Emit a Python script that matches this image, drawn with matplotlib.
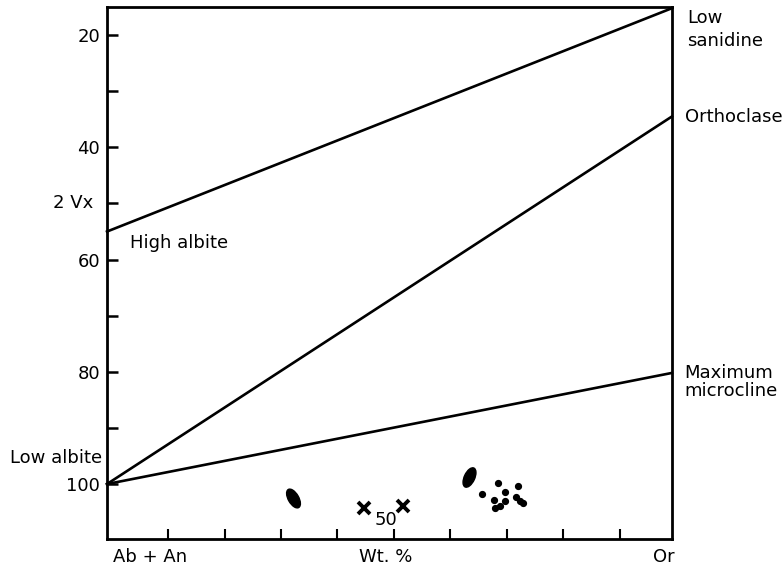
import matplotlib
matplotlib.use("Agg")
import matplotlib.pyplot as plt
from matplotlib.markers import MarkerStyle
from matplotlib.transforms import Affine2D

plt.rcParams['font.family'] = ['DejaVu Sans']

# structural state reference lines: 2Vx at Ab+An end and at Or end
line_names = ['High albite', 'Orthoclase', 'Maximum microcline']
line_left = [55.0, 100.0, 100.0]
line_right = [15.2, 34.5, 80.2]

# measured feldspars (wt. % Or, 2Vx)
dot_x = [65.5, 68.5, 67.7, 67.9, 68.8, 69.6, 69.6, 72.0, 71.6, 72.3, 72.9]
dot_y = [101.7, 99.8, 102.9, 104.3, 103.9, 101.5, 103.0, 100.4, 102.3, 103.0, 103.4]
cross_x = [44.7, 51.6]
cross_y = [104.2, 103.9]
blob_x = [32.1, 63.2]
blob_y = [102.5, 98.8]
blob_angle = [30, -25]

y_ticks = [20, 30, 40, 50, 60, 70, 80, 90, 100]
y_labels = ['20', '', '40', '', '60', '', '80', '', '100']
x_ticks = [10, 20, 30, 40, 50, 60, 70, 80, 90]

fig = plt.figure(figsize=(7.84, 5.68), dpi=100)
ax = fig.add_axes([0.1365, 0.051, 0.7205, 0.9375])
ax.set_xlim(-0.8, 99.2)
ax.set_ylim(109.8, 14.9)
x0, x1 = ax.get_xlim()

for left, right in zip(line_left, line_right):
    ax.plot([x0, x1], [left, right], color='black', lw=1.9, clip_on=False)

ax.plot(dot_x, dot_y, 'o', color='black', ms=4.2)
ax.plot(cross_x, cross_y, 'x', color='black', ms=9, mew=2.8)
for bx, by, ang in zip(blob_x, blob_y, blob_angle):
    m = MarkerStyle('o', transform=Affine2D().scale(0.5, 1.0).rotate_deg(ang))
    ax.plot([bx], [by], marker=m, color='black', ms=15, ls='none')

for s in ax.spines.values():
    s.set_linewidth(2)

ax.set_yticks(y_ticks)
ax.set_yticklabels(y_labels)
ax.set_xticks(x_ticks)
ax.set_xticklabels([])
ax.tick_params(axis='y', direction='in', length=8, width=1.8, labelsize=13, pad=5)
ax.tick_params(axis='x', direction='in', length=7, width=1.5)

fs = 13
ax.text(-3.2, 50, '2 Vx', fontsize=fs, ha='right', va='center')
ax.text(3.3, 57.0, 'High albite', fontsize=fs, ha='left', va='center')
ax.text(-1.6, 95.4, 'Low albite', fontsize=fs, ha='right', va='center')
ax.text(48.6, 106.4, '50', fontsize=fs, ha='center', va='center')
ax.text(101.9, 15.3, 'Low\nsanidine', fontsize=fs, ha='left', va='top', linespacing=1.35)
ax.text(101.5, 34.5, 'Orthoclase', fontsize=fs, ha='left', va='center')
ax.text(101.4, 81.8, 'Maximum\nmicrocline', fontsize=fs, ha='left', va='center', linespacing=1.0)
ax.text(0.2, 113.0, 'Ab + An', fontsize=fs, ha='left', va='center', clip_on=False)
ax.text(48.6, 113.0, 'Wt. %', fontsize=fs, ha='center', va='center')
ax.text(97.8, 113.0, 'Or', fontsize=fs, ha='center', va='center')

fig.savefig('out.png', dpi=100)
